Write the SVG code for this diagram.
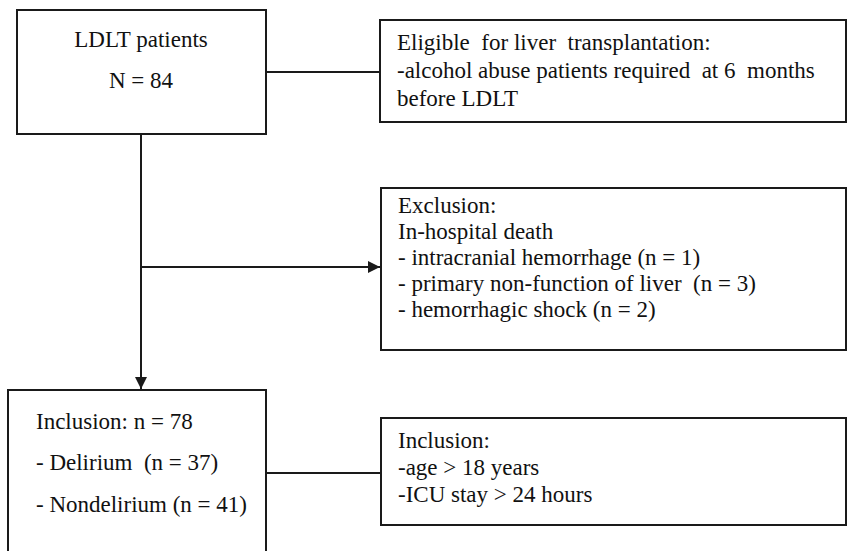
<svg xmlns="http://www.w3.org/2000/svg" width="847" height="551" viewBox="0 0 847 551">
<defs>
<style>
.box{fill:#fff;stroke:#1a1a1a;stroke-width:2}
.ln{fill:none;stroke:#1a1a1a;stroke-width:2}
text{font-family:"Liberation Serif","Times New Roman",serif;font-size:23px;fill:#111;white-space:pre}
</style>
<marker id="ah" viewBox="0 0 12 12" refX="12" refY="6" markerWidth="12" markerHeight="12" markerUnits="userSpaceOnUse" orient="auto">
<path d="M0,0 L12,6 L0,12 Z" fill="#1a1a1a"/>
</marker>
</defs>
<rect width="847" height="551" fill="#fff"/>
<g id="connectors">
<line class="ln" x1="266" y1="72" x2="380" y2="72"/>
<line class="ln" x1="141" y1="134" x2="141" y2="389" marker-end="url(#ah)"/>
<line class="ln" x1="141" y1="267" x2="380" y2="267" marker-end="url(#ah)"/>
<line class="ln" x1="266" y1="473" x2="381" y2="473"/>
</g>
<g id="ldlt">
<rect class="box" x="17" y="10" width="249" height="124"/>
<text x="141" y="47" text-anchor="middle">LDLT patients</text>
<text x="141" y="88" text-anchor="middle">N = 84</text>
</g>
<g id="eligible">
<rect class="box" x="380" y="20" width="466" height="102"/>
<text x="397" y="50" xml:space="preserve">Eligible  for liver  transplantation:</text>
<text x="397" y="78" xml:space="preserve">-alcohol abuse patients required  at 6  months</text>
<text x="397" y="106">before LDLT</text>
</g>
<g id="exclusion">
<rect class="box" x="381" y="188" width="465" height="162"/>
<text x="398" y="213">Exclusion:</text>
<text x="398" y="239">In-hospital death</text>
<text x="398" y="265">- intracranial hemorrhage (n = 1)</text>
<text x="398" y="291" xml:space="preserve">- primary non-function of liver  (n = 3)</text>
<text x="398" y="317">- hemorrhagic shock (n = 2)</text>
</g>
<g id="inclusion-n">
<rect class="box" x="8" y="390" width="258" height="170"/>
<text x="36" y="429">Inclusion: n = 78</text>
<text x="36" y="470" xml:space="preserve">- Delirium  (n = 37)</text>
<text x="36" y="512">- Nondelirium (n = 41)</text>
</g>
<g id="inclusion-criteria">
<rect class="box" x="381" y="418" width="465" height="107"/>
<text x="398" y="448">Inclusion:</text>
<text x="398" y="475">-age &gt; 18 years</text>
<text x="398" y="502">-ICU stay &gt; 24 hours</text>
</g>
</svg>
